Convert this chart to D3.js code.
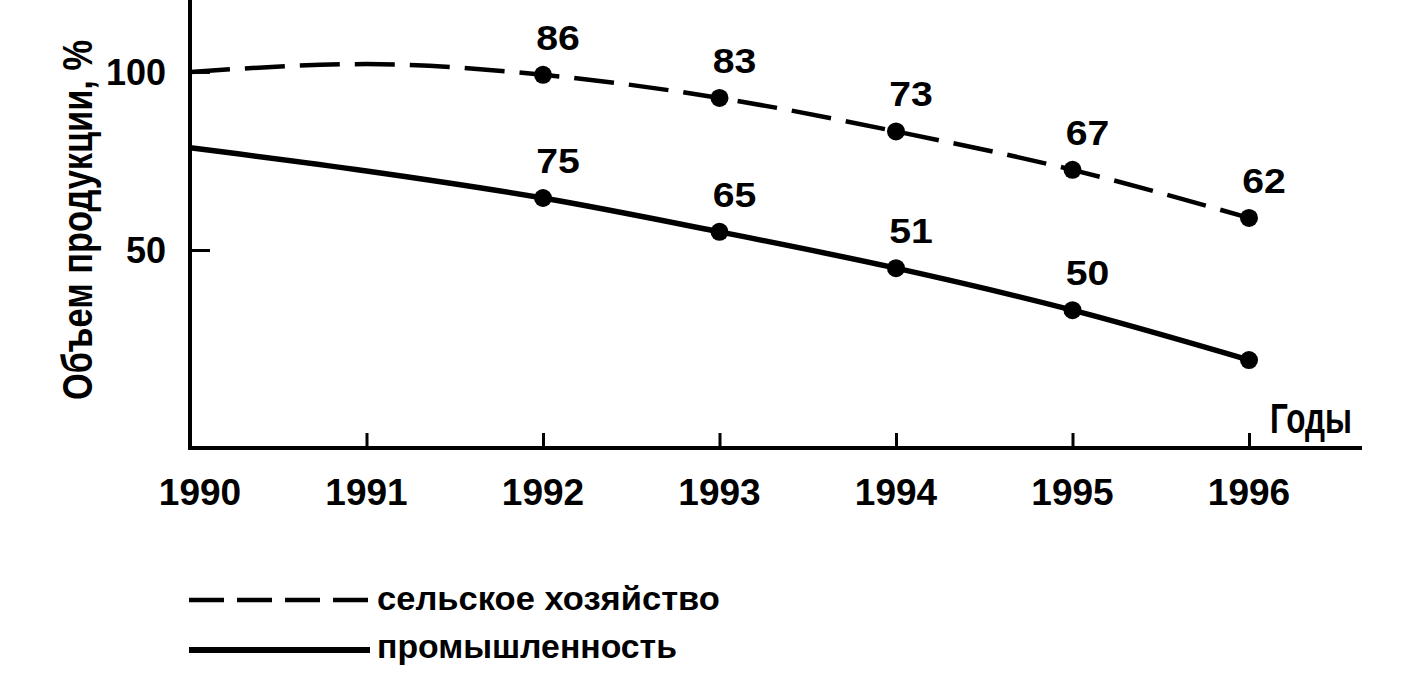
<!DOCTYPE html>
<html>
<head>
<meta charset="utf-8">
<script src="https://cdn.jsdelivr.net/npm/d3@7/dist/d3.min.js"></script>
<style>
  html, body { margin: 0; padding: 0; background: #fff; }
  svg { display: block; }
  text { font-family: "Liberation Sans", Arial, sans-serif; font-weight: bold; fill: #000; }
</style>
</head>
<body>
<svg id="chart" width="1408" height="697"></svg>
<script>
// ---- data ----
const years = [1990, 1991, 1992, 1993, 1994, 1995, 1996];
const tickYears = [1991, 1992, 1993, 1994, 1995, 1996];
const yTicks = [50, 100];
const agriValues = [100, 102.2, 99.2, 92.7, 83.3, 72.5, 59.0];   // dashed line
const industryValues = [78.7, 72.2, 64.6, 55.1, 44.9, 33.1, 19.1]; // solid line
const markerYears = [1992, 1993, 1994, 1995, 1996];
const agriLabels = ["86", "83", "73", "67", "62"];
const industryLabels = ["75", "65", "51", "50", ""];
const seriesNames = ["сельское хозяйство", "промышленность"];
const yTitle = "Объем продукции, %";
const xTitle = "Годы";

// ---- layout ----
const svg = d3.select("#chart");
const x = d3.scaleLinear().domain([1990, 1996]).range([190, 1249]);
const y = d3.scaleLinear().domain([-5.6, 120.2]).range([448, 0]);
const axisRight = 1362;

function fitWidth(sel, target) {
  const node = sel.node();
  const w = node.getBBox().width;
  return w > 0 ? target / w : 1;
}

// axes
svg.append("line").attr("x1", x(1990)).attr("x2", x(1990)).attr("y1", 0).attr("y2", y(-5.6))
  .attr("stroke", "#000").attr("stroke-width", 4);
svg.append("line").attr("x1", x(1990) - 2).attr("x2", axisRight).attr("y1", y(-5.6)).attr("y2", y(-5.6))
  .attr("stroke", "#000").attr("stroke-width", 4);

// x ticks (pointing up)
const xAxis = d3.axisTop(x).tickValues(tickYears).tickSize(15).tickFormat("");
const gx = svg.append("g").attr("transform", `translate(0,${y(-5.6)})`).call(xAxis);
gx.select(".domain").remove();
gx.selectAll(".tick line").attr("stroke", "#000").attr("stroke-width", 3);

// x tick labels
svg.append("g").selectAll("text").data(years).join("text")
  .attr("x", d => x(d) + (d === 1990 ? 10 : 0)).attr("y", 505)
  .attr("text-anchor", "middle").attr("font-size", 37)
  .text(d => d);

// y ticks (pointing inward)
const yAxis = d3.axisRight(y).tickValues(yTicks).tickSize(20).tickFormat("");
const gy = svg.append("g").attr("transform", `translate(${x(1990)},0)`).call(yAxis);
gy.select(".domain").remove();
gy.selectAll(".tick line").attr("stroke", "#000").attr("stroke-width", 3);

svg.append("g").selectAll("text").data(yTicks).join("text")
  .attr("x", 166).attr("y", d => y(d)).attr("dy", "0.36em")
  .attr("text-anchor", "end").attr("font-size", 36)
  .text(d => d);

// y title (rotated)
const yt = svg.append("text")
  .attr("text-anchor", "middle").attr("font-size", 42)
  .attr("transform", "translate(92,220) rotate(-90)")
  .text(yTitle);
const ys = fitWidth(yt, 360);
yt.attr("transform", `translate(92,220) rotate(-90) scale(${ys},1)`);

// x title
const xt = svg.append("text").attr("font-size", 42).attr("text-anchor", "start")
  .attr("transform", "translate(1270,433)").text(xTitle);
const xs = fitWidth(xt, 82);
xt.attr("transform", `translate(1270,433) scale(${xs},1)`);

// lines
const line = d3.line().x((d, i) => x(years[i])).y(d => y(d)).curve(d3.curveMonotoneX);

svg.append("path").datum(agriValues).attr("d", line)
  .attr("fill", "none").attr("stroke", "#000").attr("stroke-width", 4.5)
  .attr("stroke-dasharray", "40,15");
svg.append("path").datum(industryValues).attr("d", line)
  .attr("fill", "none").attr("stroke", "#000").attr("stroke-width", 5.5);

// markers + labels
const series = [
  { values: agriValues, labels: agriLabels },
  { values: industryValues, labels: industryLabels }
];
series.forEach(s => {
  const pts = markerYears.map((yr, i) => ({ yr, v: s.values[years.indexOf(yr)], lab: s.labels[i] }));
  svg.append("g").selectAll("circle").data(pts).join("circle")
    .attr("cx", d => x(d.yr)).attr("cy", d => y(d.v)).attr("r", 9).attr("fill", "#000");
  svg.append("g").selectAll("text").data(pts.filter(d => d.lab)).join("text")
    .attr("font-size", 35).attr("text-anchor", "middle")
    .attr("transform", d => `translate(${x(d.yr) + 15},${y(d.v) - 25}) scale(1.12,1)`)
    .text(d => d.lab);
});

// legend
const legendRows = [
  { name: seriesNames[0], dash: "35,13", sw: 4.5, ly: 600, ty: 610, tw: 343 },
  { name: seriesNames[1], dash: null, sw: 6, ly: 650, ty: 658, tw: 300 }
];
legendRows.forEach(r => {
  const ln = svg.append("line").attr("x1", 189).attr("x2", 370).attr("y1", r.ly).attr("y2", r.ly)
    .attr("stroke", "#000").attr("stroke-width", r.sw);
  if (r.dash) ln.attr("stroke-dasharray", r.dash);
  const t = svg.append("text").attr("font-size", 33).attr("text-anchor", "start")
    .attr("transform", `translate(377,${r.ty})`).text(r.name);
  const s = fitWidth(t, r.tw);
  t.attr("transform", `translate(377,${r.ty}) scale(${s},1)`);
});
</script>
</body>
</html>
